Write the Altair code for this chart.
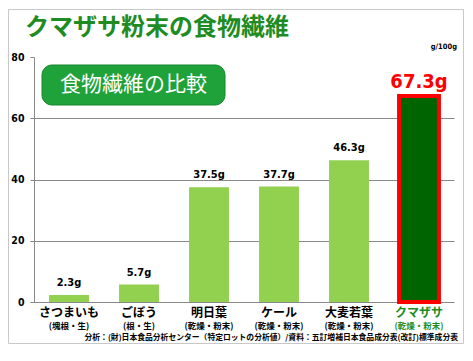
import altair as alt
import pandas as pd

categories = ["さつまいも", "ごぼう", "明日葉", "ケール", "大麦若葉", "クマザサ"]
subs = ["(塊根・生)", "(根・生)", "(乾燥・粉末)", "(乾燥・粉末)", "(乾燥・粉末)", "(乾燥・粉末)"]
values = [2.3, 5.7, 37.5, 37.7, 46.3, 67.3]
labels = ["2.3g", "5.7g", "37.5g", "37.7g", "46.3g", "67.3g"]
highlight = "クマザサ"
y_ticks = [0, 20, 40, 60, 80]

title_text = "クマザサ粉末の食物繊維"
box_text = "食物繊維の比較"
unit_text = "g/100g"
caption = "分析：(財)日本食品分析センター（特定ロットの分析値）/資料：五訂増補日本食品成分表(改訂)標準成分表"

JP = "Noto Sans CJK JP"
NUM = "Liberation Sans Narrow, DejaVu Sans Condensed, Liberation Sans, Arial, sans-serif"
GREEN_T = "#1e8c23"

df = pd.DataFrame({"cat": categories, "sub": subs, "val": values, "lab": labels})
df["hl"] = df["cat"] == highlight

xenc = alt.X("cat:N", sort=categories, axis=None,
             scale=alt.Scale(paddingInner=0.43, paddingOuter=0.215))

base = alt.Chart(df)

bars = base.mark_bar().encode(
    x=xenc,
    y=alt.Y("val:Q", scale=alt.Scale(domain=[0, 80]),
            axis=alt.Axis(values=y_ticks, title=None, labelFont=NUM, labelFontSize=10.5,
                          labelFontWeight="bold", labelColor="#000", tickColor="#888",
                          tickSize=4, labelPadding=6, domainColor="#888",
                          gridColor="#888",
                          gridOpacity=alt.condition("datum.value == 80", alt.value(0), alt.value(1)))),
    color=alt.condition("datum.hl", alt.value("#006400"), alt.value("#92d050")),
    stroke=alt.condition("datum.hl", alt.value("#ff0000"), alt.value(None)),
    strokeWidth=alt.condition("datum.hl", alt.value(4), alt.value(0)),
)

val_small = base.transform_filter("!datum.hl").mark_text(
    font=NUM, fontSize=11, fontWeight="bold", color="#000", dy=-9, baseline="alphabetic"
).encode(x=xenc, y="val:Q", text="lab:N")

val_big = base.transform_filter("datum.hl").mark_text(
    font=NUM, fontSize=20, fontWeight="bold", color="#ff0000", dy=-8, baseline="alphabetic"
).encode(x=xenc, y="val:Q", text="lab:N")

names = base.mark_text(font=JP, fontSize=12, fontWeight="bold", baseline="middle").encode(
    x=xenc, y=alt.value(255.5), text="cat:N",
    color=alt.condition("datum.hl", alt.value(GREEN_T), alt.value("#000")),
)
subl = base.mark_text(font=JP, fontSize=8.5, fontWeight="bold", baseline="middle").encode(
    x=xenc, y=alt.value(269), text="sub:N",
    color=alt.condition("datum.hl", alt.value(GREEN_T), alt.value("#000")),
)

one = alt.Chart(pd.DataFrame({"t": [title_text], "b": [box_text], "u": [unit_text], "c": [caption]}))

frame = one.mark_rect(fill=None, stroke="#c8c8c8", strokeWidth=1).encode(
    x=alt.value(-25.5), x2=alt.value(429.5), y=alt.value(-47.5), y2=alt.value(286.5))

box = one.mark_rect(fill="#1fa23a", stroke="#15862c", strokeWidth=1, cornerRadius=10).encode(
    x=alt.value(8), x2=alt.value(191), y=alt.value(8), y2=alt.value(48))
box_t = one.mark_text(font=JP, fontSize=21, color="#ffffff", baseline="middle", align="center").encode(
    x=alt.value(99.5), y=alt.value(28), text="b:N")

title = one.mark_text(font=JP, fontSize=24, fontWeight="bold", color=GREEN_T,
                      baseline="middle", align="left").encode(
    x=alt.value(-9), y=alt.value(-29), text="t:N")
unit = one.mark_text(font=NUM, fontSize=7.5, fontWeight="bold", color="#000",
                     baseline="middle", align="right").encode(
    x=alt.value(423), y=alt.value(-10), text="u:N")
cap = one.mark_text(font=JP, fontSize=7.8, fontWeight="bold", color="#000",
                    baseline="middle", align="right").encode(
    x=alt.value(424), y=alt.value(280.5), text="c:N")

chart = alt.layer(frame, bars, val_small, val_big, names, subl, box, box_t, title, unit, cap).properties(
    width=420, height=245,
    autosize=alt.AutoSizeParams(type="none"),
    padding={"left": 26, "top": 49, "right": 11, "bottom": 51},
    background="#ffffff",
).configure_view(stroke=None)

chart.save("out.html", embed_options={"renderer": "svg", "actions": False})
